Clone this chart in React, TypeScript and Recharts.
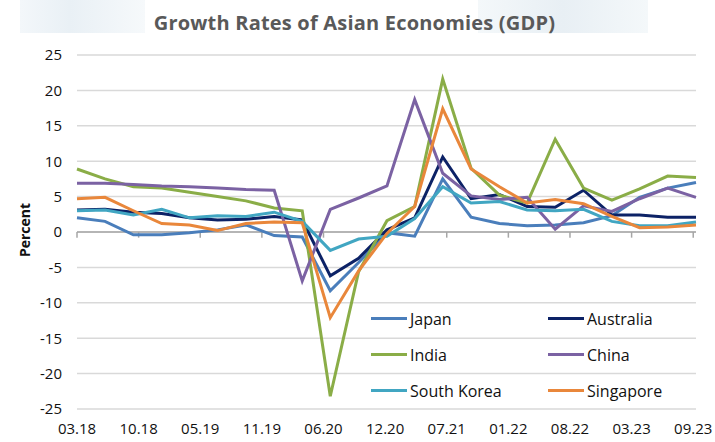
import { LineChart, Line, XAxis, YAxis, CartesianGrid, ReferenceLine, Label } from "recharts";

const quarters = [
  "2018-03-31", "2018-06-30", "2018-09-30", "2018-12-31",
  "2019-03-31", "2019-06-30", "2019-09-30", "2019-12-31",
  "2020-03-31", "2020-06-30", "2020-09-30", "2020-12-31",
  "2021-03-31", "2021-06-30", "2021-09-30", "2021-12-31",
  "2022-03-31", "2022-06-30", "2022-09-30", "2022-12-31",
  "2023-03-31", "2023-06-30", "2023-09-30",
];

const japan = [2.0, 1.5, -0.4, -0.4, -0.1, 0.3, 1.0, -0.5, -0.7, -8.3, -4.3, -0.1, -0.6, 7.5, 2.1, 1.2, 0.9, 1.0, 1.3, 2.3, 4.9, 6.2, 7.0];
const australia = [3.1, 3.2, 2.8, 2.6, 2.0, 1.7, 1.8, 2.2, 1.7, -6.2, -3.7, 0.3, 2.0, 10.6, 4.7, 5.3, 3.6, 3.5, 5.9, 2.4, 2.4, 2.1, 2.1];
const india = [8.9, 7.5, 6.4, 6.2, 5.6, 5.0, 4.4, 3.4, 3.0, -23.2, -5.6, 1.6, 3.6, 21.6, 9.0, 5.2, 4.1, 13.1, 6.2, 4.5, 6.1, 7.9, 7.7];
const china = [6.9, 6.9, 6.7, 6.5, 6.4, 6.2, 6.0, 5.9, -6.9, 3.2, 4.8, 6.5, 18.7, 8.3, 5.1, 4.6, 4.9, 0.4, 3.7, 2.9, 4.7, 6.2, 4.9];
const southKorea = [3.0, 3.1, 2.4, 3.2, 2.0, 2.3, 2.2, 2.8, 1.5, -2.6, -1.0, -0.6, 1.9, 6.4, 4.1, 4.3, 3.1, 3.0, 3.2, 1.5, 0.9, 0.9, 1.4];
const singapore = [4.7, 4.9, 3.0, 1.2, 1.0, 0.2, 1.2, 1.4, 1.3, -12.1, -5.5, -0.2, 3.6, 17.4, 8.9, 6.4, 4.1, 4.6, 4.0, 2.2, 0.6, 0.7, 1.0];

// date axis: a label every 200 days from the first quarter
const tickLabels = ["03.18", "10.18", "05.19", "11.19", "06.20", "12.20", "07.21", "01.22", "08.22", "03.23", "09.23"];
const yTicks = [-25, -20, -15, -10, -5, 0, 5, 10, 15, 20, 25];

const series = [
  { key: "japan", name: "Japan", values: japan, color: "#4a7ebb" },
  { key: "australia", name: "Australia", values: australia, color: "#0c2266" },
  { key: "india", name: "India", values: india, color: "#8aad47" },
  { key: "china", name: "China", values: china, color: "#7b62a3" },
  { key: "southKorea", name: "South Korea", values: southKorea, color: "#41a6c2" },
  { key: "singapore", name: "Singapore", values: singapore, color: "#e9873b" },
];

const DAY = 86400000;
const start = Date.parse(quarters[0]);
const data = quarters.map((q, i) => {
  const row: Record<string, number> = { day: (Date.parse(q) - start) / DAY };
  series.forEach((s) => (row[s.key] = s.values[i]));
  return row;
});
const xTicks = tickLabels.map((_, i) => i * 200);
const lastDay = data[data.length - 1].day;

const font = "'Open Sans', sans-serif";

function XTick({ x, y, payload }: any) {
  const idx = xTicks.indexOf(payload.value);
  return (
    <text x={x} y={y} dy={17} textAnchor="middle" fontSize={15} fontFamily={font} fill="#111">
      {tickLabels[idx]}
    </text>
  );
}

export default function App() {
  return (
    <div style={{ position: "absolute", left: 0, top: 0, width: 715, height: 442, background: "#fff", fontFamily: font }}>
      <div style={{ position: "absolute", left: 20, top: 0, width: 125, height: 33, background: "linear-gradient(90deg, #f3f7fa, #e9f0f5 40%, #f6f9fb)" }} />
      <div style={{ position: "absolute", left: 478, top: 0, width: 170, height: 33, background: "linear-gradient(90deg, #f4f8fa, #e8eff4 50%, #f4f8fa)" }} />
      <div style={{ position: "absolute", left: 0, top: 9, width: 709, textAlign: "center", fontSize: 20, fontWeight: 700, color: "#595959", letterSpacing: 0.2 }}>
        Growth Rates of Asian Economies (GDP)
      </div>
      <div style={{ position: "absolute", left: 0, top: 0 }}>
        <LineChart width={715} height={442} data={data} margin={{ top: 55, right: 19, bottom: 0, left: 0 }}>
          <CartesianGrid vertical={false} stroke="#d9d9d9" strokeWidth={1.5} />
          <XAxis
            type="number"
            dataKey="day"
            domain={[0, lastDay]}
            ticks={xTicks}
            height={33}
            axisLine={false}
            tickLine={false}
            tick={<XTick />}
            interval={0}
          />
          <YAxis
            type="number"
            domain={[-25, 25]}
            ticks={yTicks}
            width={77}
            axisLine={false}
            tickLine={false}
            tickMargin={9}
            tick={{ fontSize: 15, fontFamily: font, fill: "#111" }}
            interval={0}
          >
            <Label
              content={() => (
                <text x={30} y={230} transform="rotate(-90 30 230)" textAnchor="middle" fontSize={14} fontWeight={700} fontFamily={font} fill="#111">
                  Percent
                </text>
              )}
            />
          </YAxis>
          <ReferenceLine y={0} stroke="#a6a6a6" strokeWidth={1.5} />
          {xTicks.map((t) => (
            <ReferenceLine key={t} segment={[{ x: t, y: 0 }, { x: t, y: -0.8 }]} stroke="#a6a6a6" strokeWidth={1.5} />
          ))}
          {series.map((s) => (
            <Line
              key={s.key}
              type="linear"
              dataKey={s.key}
              name={s.name}
              stroke={s.color}
              strokeWidth={3}
              dot={false}
              isAnimationActive={false}
            />
          ))}
        </LineChart>
      </div>
      <div style={{ position: "absolute", left: 371, top: 306, display: "grid", gridTemplateColumns: "177px 120px", rowGap: 11 }}>
        {series.map((s) => (
          <div key={s.key} style={{ display: "flex", alignItems: "center", height: 25, fontSize: 16, color: "#111" }}>
            <span style={{ display: "inline-block", width: 36, height: 3, background: s.color, marginRight: 3 }} />
            {s.name}
          </div>
        ))}
      </div>
    </div>
  );
}
